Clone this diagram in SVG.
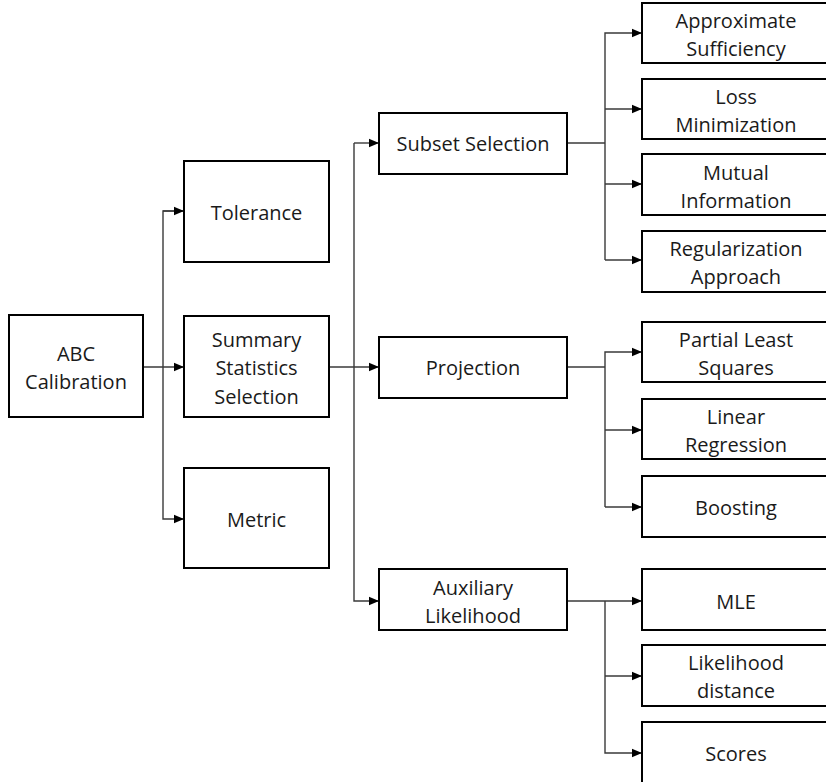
<svg xmlns="http://www.w3.org/2000/svg" width="826" height="782" viewBox="0 0 826 782">
<style>
.box{fill:#fff;stroke:#000;stroke-width:2}
.t{font-family:"Open Sans","Noto Sans",sans-serif;font-size:20px;fill:#1a1a1a;text-anchor:middle;dominant-baseline:central}
.c{fill:none;stroke:#3a3a3a;stroke-width:1.4}
</style>
<defs>
<marker id="ah" markerUnits="userSpaceOnUse" markerWidth="10" markerHeight="10" viewBox="0 0 10 10" refX="10" refY="5" orient="auto">
<path d="M0,0.8 L10,5 L0,9.2 Z" fill="#000"/>
</marker>
</defs>
<rect width="826" height="782" fill="#fff"/>
<g id="connectors">
<path class="c" d="M143,367 H184" marker-end="url(#ah)"/>
<path class="c" d="M184,211 H163 V519 H184" marker-end="url(#ah)"/>
<path class="c" d="M163,211 H184" marker-end="url(#ah)"/>
<path class="c" d="M329,367 H379" marker-end="url(#ah)"/>
<path class="c" d="M354,143 V601 H379" marker-end="url(#ah)"/>
<path class="c" d="M354,143 H379" marker-end="url(#ah)"/>
<path class="c" d="M567,143 H605"/>
<path class="c" d="M605,260 V33 H642" marker-end="url(#ah)"/>
<path class="c" d="M605,109 H642" marker-end="url(#ah)"/>
<path class="c" d="M605,184 H642" marker-end="url(#ah)"/>
<path class="c" d="M605,260 H642" marker-end="url(#ah)"/>
<path class="c" d="M567,367 H605"/>
<path class="c" d="M605,507 V352 H642" marker-end="url(#ah)"/>
<path class="c" d="M605,430 H642" marker-end="url(#ah)"/>
<path class="c" d="M605,507 H642" marker-end="url(#ah)"/>
<path class="c" d="M567,601 H642" marker-end="url(#ah)"/>
<path class="c" d="M605,601 V753 H642" marker-end="url(#ah)"/>
<path class="c" d="M605,676 H642" marker-end="url(#ah)"/>
</g>
<g id="abc"><rect class="box" x="9" y="315" width="134" height="102"/><text class="t" x="76" y="353">ABC</text><text class="t" x="76" y="381">Calibration</text></g>
<g id="tolerance"><rect class="box" x="184" y="161" width="145" height="101"/><text class="t" x="256.5" y="212">Tolerance</text></g>
<g id="summary"><rect class="box" x="184" y="316" width="145" height="101"/><text class="t" x="256.5" y="339">Summary</text><text class="t" x="256.5" y="367.5">Statistics</text><text class="t" x="256.5" y="396">Selection</text></g>
<g id="metric"><rect class="box" x="184" y="468" width="145" height="100"/><text class="t" x="256.5" y="519">Metric</text></g>
<g id="subset"><rect class="box" x="379" y="113" width="188" height="61"/><text class="t" x="473" y="143.5">Subset Selection</text></g>
<g id="projection"><rect class="box" x="379" y="337" width="188" height="61"/><text class="t" x="473" y="367.5">Projection</text></g>
<g id="auxiliary"><rect class="box" x="379" y="569" width="188" height="61"/><text class="t" x="473" y="587">Auxiliary</text><text class="t" x="473" y="615">Likelihood</text></g>
<g id="approx"><rect class="box" x="642" y="3" width="190" height="60"/><text class="t" x="736" y="20">Approximate</text><text class="t" x="736" y="48">Sufficiency</text></g>
<g id="loss"><rect class="box" x="642" y="79" width="190" height="60"/><text class="t" x="736" y="96">Loss</text><text class="t" x="736" y="124">Minimization</text></g>
<g id="mutual"><rect class="box" x="642" y="154" width="190" height="61"/><text class="t" x="736" y="172">Mutual</text><text class="t" x="736" y="200">Information</text></g>
<g id="regular"><rect class="box" x="642" y="231" width="190" height="61"/><text class="t" x="736" y="248">Regularization</text><text class="t" x="736" y="276">Approach</text></g>
<g id="pls"><rect class="box" x="642" y="322" width="190" height="60"/><text class="t" x="736" y="339">Partial Least</text><text class="t" x="736" y="367">Squares</text></g>
<g id="linreg"><rect class="box" x="642" y="399" width="190" height="60"/><text class="t" x="736" y="416">Linear</text><text class="t" x="736" y="444">Regression</text></g>
<g id="boosting"><rect class="box" x="642" y="476" width="190" height="61"/><text class="t" x="736" y="507">Boosting</text></g>
<g id="mle"><rect class="box" x="642" y="569" width="190" height="61"/><text class="t" x="736" y="601">MLE</text></g>
<g id="likdist"><rect class="box" x="642" y="645" width="190" height="61"/><text class="t" x="736" y="662">Likelihood</text><text class="t" x="736" y="690">distance</text></g>
<g id="scores"><rect class="box" x="642" y="722" width="190" height="70"/><text class="t" x="736" y="753">Scores</text></g>
</svg>
